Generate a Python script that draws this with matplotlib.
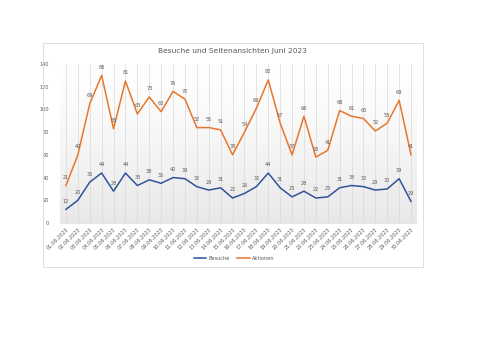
import numpy as np
import matplotlib.pyplot as plt
from matplotlib.patches import Rectangle

# Daten Juni 2023
tage = ['%02d.06.2023' % d for d in range(1, 31)]
besuche = [12, 20, 36, 44, 28, 44, 33, 38, 35, 40, 39, 32, 29, 31, 22,
           26, 32, 44, 31, 23, 28, 22, 23, 31, 33, 32, 29, 30, 39, 19]
aktionen = [21, 40, 69, 86, 55, 81, 63, 73, 63, 76, 70, 52, 55, 51, 38,
            54, 69, 82, 57, 37, 66, 36, 41, 68, 61, 60, 52, 58, 69, 41]
y_ticks = [0, 20, 40, 60, 80, 100, 120, 140]

blau = '#2F5597'
orange = '#E8762B'
grau = '#595959'

fig = plt.figure(figsize=(5, 3.53), dpi=100)
fig.patches.append(Rectangle((43 / 500, 1 - 267 / 353), 380 / 500, 224 / 353,
                             transform=fig.transFigure, fill=False,
                             edgecolor='#D9D9D9', linewidth=0.6))

ax = fig.add_axes([60 / 500, 1 - 223 / 353, 357 / 500, 159 / 353])
x = np.arange(len(tage))
gestapelt = np.array(besuche) + np.array(aktionen)

# Verlauf im Hintergrund (oben weiss, unten hellgrau)
t = np.linspace(0, 1, 256) ** 1.3
ton = 1 - 0.09 * t
grad = np.dstack([ton, ton, ton]).reshape(256, 1, 3)
ax.imshow(grad, extent=[-0.5, 29.5, 0, 140], aspect='auto', zorder=0,
          origin='upper')

for xi in x:
    ax.axvline(xi, color='#D9D9D9', linewidth=0.5, zorder=1)

ax.plot(x, besuche, color=blau, linewidth=1.1, label='Besuche', zorder=3)
ax.plot(x, gestapelt, color=orange, linewidth=1.1, label='Aktionen', zorder=3)

for xi, v in zip(x, besuche):
    ax.annotate(str(v), (xi, v), xytext=(0, 4), textcoords='offset points',
                ha='center', va='bottom', fontsize=3.6, color=grau)
for xi, v, s in zip(x, aktionen, gestapelt):
    ax.annotate(str(v), (xi, s), xytext=(0, 4), textcoords='offset points',
                ha='center', va='bottom', fontsize=3.6, color=grau)

ax.set_xlim(-0.5, 29.5)
ax.set_ylim(0, 140)
ax.set_yticks(y_ticks)
ax.set_xticks(x)
ax.set_xticklabels(tage, rotation=45, ha='right', rotation_mode='anchor')
ax.tick_params(axis='both', length=0, labelsize=3.6, labelcolor=grau, pad=3)
ax.tick_params(axis='y', pad=8)
for s in ax.spines.values():
    s.set_visible(False)
ax.spines['bottom'].set_visible(True)
ax.spines['bottom'].set_color('#D9D9D9')
ax.spines['bottom'].set_linewidth(0.5)

fig.text(232 / 500, 1 - 51 / 353, 'Besuche und Seitenansichten Juni 2023',
         ha='center', va='center', fontsize=5.4, color=grau)

fig.legend(loc='center', bbox_to_anchor=(234 / 500, 1 - 258 / 353), ncol=2,
           frameon=False, fontsize=3.6, labelcolor=grau, handlelength=2.5,
           handletextpad=0.4, columnspacing=1.5)

fig.savefig('out.png', dpi=100)
